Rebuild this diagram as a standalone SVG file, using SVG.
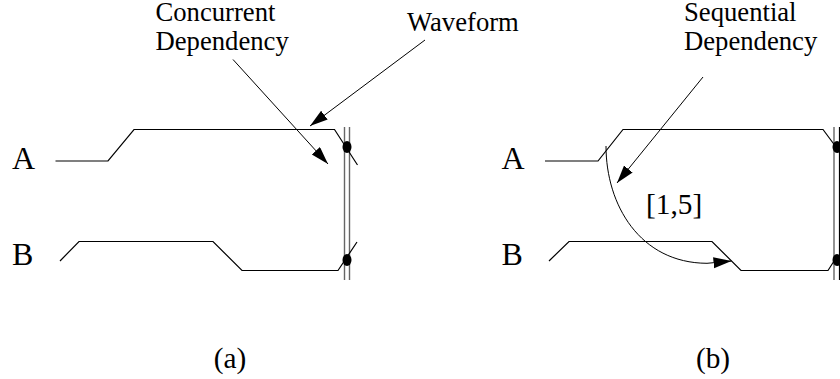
<svg xmlns="http://www.w3.org/2000/svg" width="840" height="379" viewBox="0 0 840 379">
<style>
text{font-family:"Liberation Serif","Times New Roman",serif;fill:#000}
.l{font-size:26.67px}
.s{font-size:32px}
.m{font-size:29.3px}
.w{fill:none;stroke:#000;stroke-width:1.2}
.g{fill:none;stroke:#666;stroke-width:1.4}
.a{fill:none;stroke:#000;stroke-width:1}
</style>
<defs>
<marker id="h" markerUnits="userSpaceOnUse" markerWidth="20" markerHeight="12" refX="18" refY="5.5" orient="auto"><path d="M0 0L18 5.5L0 11Z" fill="#000"/></marker>
</defs>
<rect width="840" height="379" fill="#fff"/>
<g id="connectors">
<path class="a" d="M425 40L310 126" marker-end="url(#h)"/>
<path class="a" d="M233 59.5L328 164" marker-end="url(#h)"/>
<path class="a" d="M703 77L617 183" marker-end="url(#h)"/>
<path class="a" d="M606 146C606 205 640 263 707 263.3L731.5 261" marker-end="url(#h)"/>
</g>
<g id="bars-a"><path class="g" d="M344.5 127V280M349.5 127V280"/></g>
<g id="bars-b"><path class="g" d="M834 127V280"/><path class="w" d="M839.5 127V280"/></g>
<g id="wave-a-A"><path class="w" d="M55.5 161H108L134 129.5H334.5L357.5 165"/><ellipse cx="347" cy="147" rx="4.5" ry="6"/></g>
<g id="wave-a-B"><path class="w" d="M60 261L79 241.5H213L242 270.5H338L357 242"/><ellipse cx="347" cy="260" rx="4.5" ry="6"/></g>
<g id="wave-b-A"><path class="w" d="M545 161H598L623 129.5H823L836 147"/><ellipse cx="837" cy="147" rx="4.5" ry="6"/></g>
<g id="wave-b-B"><path class="w" d="M549 261L569 241.5H712L741 270.5H828L836 258"/><ellipse cx="837" cy="260" rx="4.5" ry="6"/></g>
<g id="labels">
<text class="s" x="12" y="169">A</text>
<text class="s" x="12" y="265">B</text>
<text class="s" x="501.5" y="169">A</text>
<text class="s" x="501.5" y="265">B</text>
<text class="l" x="155.5" y="21">Concurrent</text>
<text class="l" x="155.5" y="50">Dependency</text>
<text class="l" x="407" y="31">Waveform</text>
<text class="l" x="684" y="21">Sequential</text>
<text class="l" x="684" y="50">Dependency</text>
<text class="m" x="646" y="214">[1,5]</text>
<text class="m" x="230" y="368" text-anchor="middle">(a)</text>
<text class="m" x="713" y="368" text-anchor="middle">(b)</text>
</g>
</svg>
